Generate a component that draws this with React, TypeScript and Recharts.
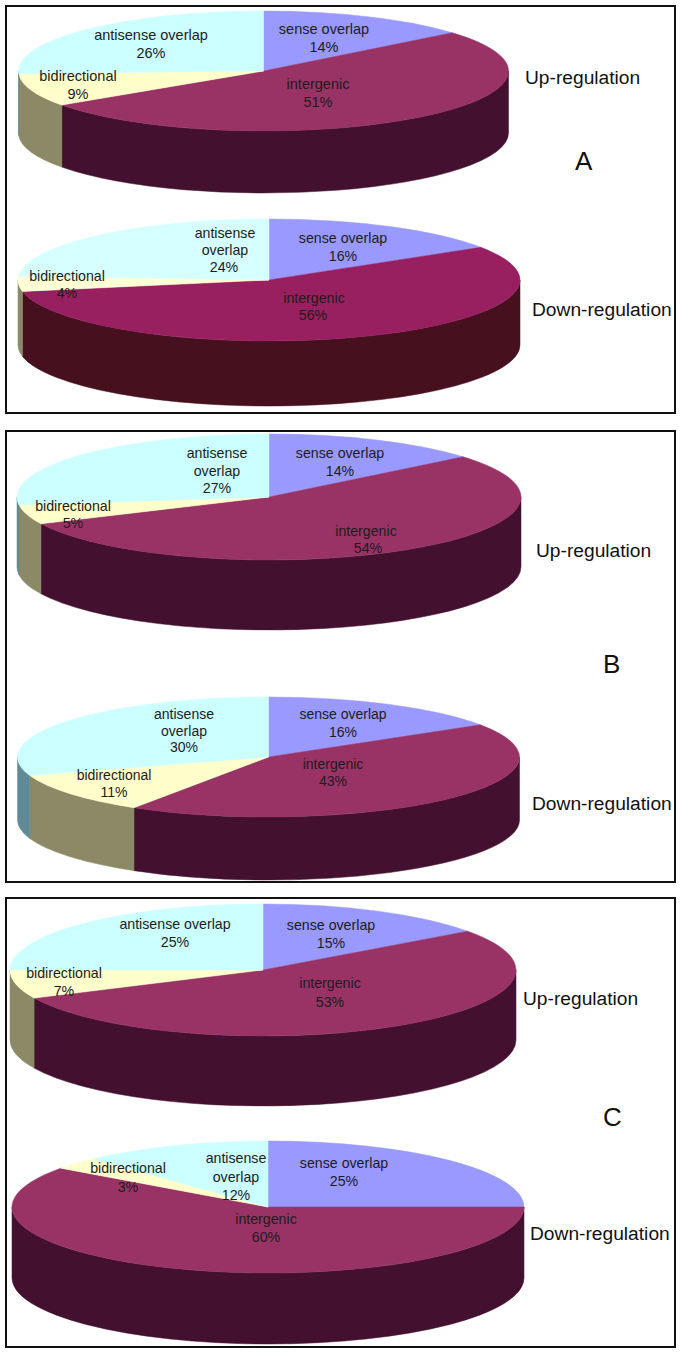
import React from 'react';
import { PieChart, Pie } from 'recharts';

const WIDTH = 681;
const HEIGHT = 1353;

const categories = ['sense overlap', 'intergenic', 'bidirectional', 'antisense overlap'];

const valuesAUp = [14, 51.4, 8.9, 25.7];
const valuesADown = [16, 56, 4, 24];
const valuesBUp = [14, 54, 5, 27];
const valuesBDown = [16, 43, 11, 30];
const valuesCUp = [15, 53, 7, 25];
const valuesCDown = [25, 60, 3, 12];

const TOP_COLORS = ['#9999ff', '#993366', '#ffffcc', '#ccffff'];
const WALL_COLORS = ['#5b5b99', '#431030', '#8c8a66', '#5f8a96'];
const TOP_COLORS_A_DOWN = ['#9999ff', '#992060', '#ffffd6', '#d6ffff'];
const WALL_COLORS_A_DOWN = ['#5b5b99', '#46101f', '#8c8a66', '#5f8a96'];

type Line = [number, number];

interface PieSpec {
  values: number[];
  cx: number;
  cy: number;
  rx: number;
  ry: number;
  depth: number;
  fontSize: number;
  top?: string[];
  wall?: string[];
  // one [x, y] per text line, per category
  labelAt: Line[][];
}

const pies: PieSpec[] = [
  {
    values: valuesAUp, cx: 263.5, cy: 71, rx: 245, ry: 60, depth: 62, fontSize: 14.5,
    labelAt: [
      [[324, 29], [324, 47]],
      [[318, 84], [318, 102]],
      [[78, 76], [78, 94]],
      [[151, 35], [151, 53]],
    ],
  },
  {
    values: valuesADown, cx: 269, cy: 280, rx: 251, ry: 61, depth: 65, fontSize: 14.2,
    top: TOP_COLORS_A_DOWN, wall: WALL_COLORS_A_DOWN,
    labelAt: [
      [[343, 238], [343, 256]],
      [[314, 298], [313, 315]],
      [[67, 276], [67, 293]],
      [[225, 233], [225, 250], [224, 267]],
    ],
  },
  {
    values: valuesBUp, cx: 269, cy: 497, rx: 252, ry: 63, depth: 70, fontSize: 14.2,
    labelAt: [
      [[340, 453], [340, 471]],
      [[366, 531], [368, 548]],
      [[73, 506], [73, 523]],
      [[217, 453], [217, 471], [217, 488]],
    ],
  },
  {
    values: valuesBDown, cx: 268.5, cy: 757, rx: 251, ry: 60, depth: 63, fontSize: 14,
    labelAt: [
      [[343, 714], [343, 732]],
      [[333, 764], [333, 781]],
      [[114, 775], [114, 792]],
      [[184, 714], [184, 731], [184, 747]],
    ],
  },
  {
    values: valuesCUp, cx: 263, cy: 970, rx: 253, ry: 66, depth: 70, fontSize: 14.2,
    labelAt: [
      [[331, 925], [331, 943]],
      [[330, 983], [330, 1002]],
      [[64, 973], [64, 991]],
      [[175, 924], [175, 942]],
    ],
  },
  {
    values: valuesCDown, cx: 268, cy: 1207, rx: 256, ry: 66, depth: 71, fontSize: 14.2,
    labelAt: [
      [[344, 1163], [344, 1181]],
      [[266, 1219], [266, 1237]],
      [[128, 1168], [128, 1187]],
      [[236, 1158], [236, 1177], [236, 1195]],
    ],
  },
];

const panels = [
  { left: 5, top: 5, width: 671, height: 409 },
  { left: 5, top: 430, width: 671, height: 453 },
  { left: 5, top: 897, width: 671, height: 451 },
];

const sideLabels = [
  { text: 'Up-regulation', x: 525, y: 78, size: 19.2 },
  { text: 'Down-regulation', x: 532, y: 310, size: 19.2 },
  { text: 'A', x: 575, y: 161, size: 26 },
  { text: 'Up-regulation', x: 536, y: 551, size: 19.2 },
  { text: 'Down-regulation', x: 532, y: 804, size: 19.2 },
  { text: 'B', x: 603, y: 664, size: 26 },
  { text: 'Up-regulation', x: 523, y: 999, size: 19.2 },
  { text: 'Down-regulation', x: 530, y: 1234, size: 19.2 },
  { text: 'C', x: 603, y: 1117, size: 26 },
];

const RAD = Math.PI / 180;

// squashes the circular sector recharts hands over into an ellipse, with a wall under the front edge
const makeShape = (spec: PieSpec) => (props: any) => {
  const { cx, cy, startAngle, endAngle, index } = props;
  const { rx, ry, depth } = spec;
  const top = spec.top || TOP_COLORS;
  const wall = spec.wall || WALL_COLORS;
  const px = (a: number) => cx + rx * Math.cos(a * RAD);
  const py = (a: number) => cy - ry * Math.sin(a * RAD);
  const large = Math.abs(startAngle - endAngle) > 180 ? 1 : 0;
  const topPath = `M${cx},${cy} L${px(startAngle)},${py(startAngle)} A${rx},${ry} 0 ${large} 1 ${px(endAngle)},${py(endAngle)} Z`;

  // front of the pie is angle 0 down to -180
  const a1 = Math.min(startAngle, 0);
  const a2 = Math.max(endAngle, -180);
  let wallPath = '';
  if (a1 > a2) {
    wallPath = `M${px(a1)},${py(a1)} A${rx},${ry} 0 0 1 ${px(a2)},${py(a2)} L${px(a2)},${py(a2) + depth} A${rx},${ry} 0 0 0 ${px(a1)},${py(a1) + depth} Z`;
  }
  return (
    <g>
      {wallPath && <path d={wallPath} fill={wall[index]} stroke={wall[index]} strokeWidth={0.5} />}
      <path d={topPath} fill={top[index]} stroke={top[index]} strokeWidth={0.5} />
    </g>
  );
};

const makeLabel = (spec: PieSpec) => (props: any) => {
  const { index } = props;
  const at = spec.labelAt[index];
  const name = categories[index];
  const pct = `${Math.round(spec.values[index])}%`;
  const lines = at.length === 3 ? [...name.split(' '), pct] : [name, pct];
  return (
    <g key={index}>
      {lines.map((t, i) => (
        <text
          key={i}
          x={at[i][0]}
          y={at[i][1]}
          textAnchor="middle"
          dominantBaseline="central"
          fontFamily="Liberation Sans"
          fontSize={spec.fontSize}
          fill="#1c1c1c"
        >
          {t}
        </text>
      ))}
    </g>
  );
};

export default function App() {
  return (
    <div style={{ position: 'absolute', left: 0, top: 0, width: WIDTH, height: HEIGHT, background: '#fff', fontFamily: 'Liberation Sans' }}>
      {panels.map((p, i) => (
        <div
          key={i}
          style={{ position: 'absolute', left: p.left, top: p.top, width: p.width, height: p.height, border: '2px solid #111', boxSizing: 'border-box' }}
        />
      ))}
      <div style={{ position: 'absolute', left: 0, top: 0 }}>
        <PieChart width={WIDTH} height={HEIGHT} margin={{ top: 0, right: 0, bottom: 0, left: 0 }}>
          {pies.map((spec, i) => (
            <Pie
              key={i}
              data={spec.values.map((value, k) => ({ name: categories[k], value }))}
              dataKey="value"
              nameKey="name"
              cx={spec.cx}
              cy={spec.cy}
              innerRadius={0}
              outerRadius={spec.rx}
              startAngle={90}
              endAngle={-270}
              paddingAngle={0}
              stroke="none"
              shape={makeShape(spec)}
              label={makeLabel(spec)}
              labelLine={false}
              isAnimationActive={false}
            />
          ))}
        </PieChart>
      </div>
      {sideLabels.map((l, i) => (
        <div
          key={i}
          style={{ position: 'absolute', left: l.x, top: l.y, fontSize: l.size, lineHeight: 1, transform: 'translateY(-50%)', color: '#111', whiteSpace: 'nowrap' }}
        >
          {l.text}
        </div>
      ))}
    </div>
  );
}
